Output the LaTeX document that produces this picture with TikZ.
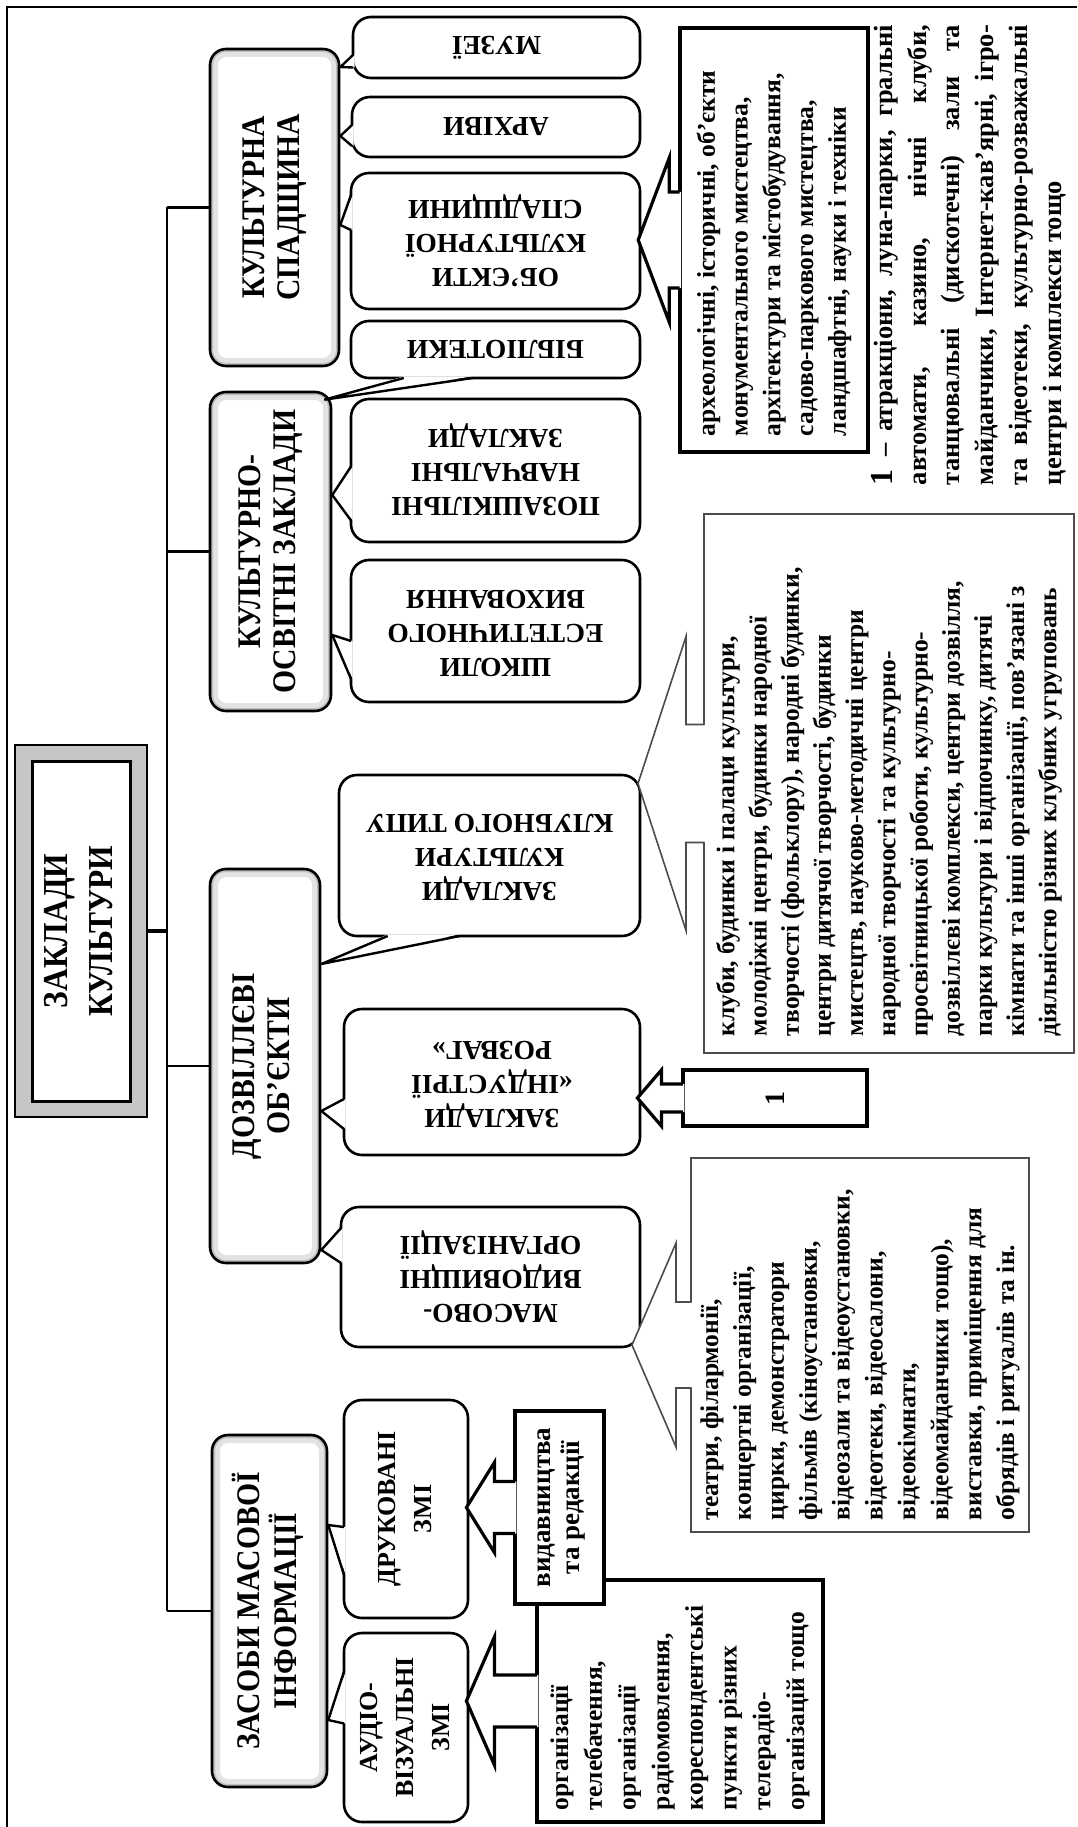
\documentclass[tikz,border=0pt]{standalone}
\usepackage{fontspec}
\setmainfont{Liberation Serif}
\newfontfamily\narrowserif{Liberation Serif}[FakeStretch=0.9]
\usepackage{graphicx}
\usetikzlibrary{calc,positioning}

\newcommand{\tailw}[4]{%
  \fill[white] ($(#1.west)+(3,#2)$) -- (#4) -- ($(#1.west)+(3,#3)$) -- cycle;
  \draw[tailline] ($(#1.west)+(1.3,#2)$) -- (#4) -- ($(#1.west)+(1.3,#3)$);}
\newcommand{\tails}[4]{%
  \fill[white] ($(#1.south west)+(#2,-3)$) -- (#4) -- ($(#1.south west)+(#3,-3)$) -- cycle;
  \draw[tailline] ($(#1.south west)+(#2,-1.3)$) -- (#4) -- ($(#1.south west)+(#3,-1.3)$);}
\newcommand{\headw}[6]{%
  \fill[white] ($(#1.west)+(3,#5)$) -- ($(#1.west)+(-#2,#5)$) -- ($(#1.west)+(-#2,#4)$)
    -- ($(#1.west)+(-#2-#3,0)$) -- ($(#1.west)+(-#2,-#4)$) -- ($(#1.west)+(-#2,-#5)$)
    -- ($(#1.west)+(3,-#5)$) -- cycle;
  \draw[#6] ($(#1.west)+(1.5,#5)$) -- ($(#1.west)+(-#2,#5)$) -- ($(#1.west)+(-#2,#4)$)
    -- ($(#1.west)+(-#2-#3,0)$) -- ($(#1.west)+(-#2,-#4)$) -- ($(#1.west)+(-#2,-#5)$)
    -- ($(#1.west)+(1.5,-#5)$);}

\begin{document}
\hyphenpenalty=10000 \exhyphenpenalty=10000
\begin{tikzpicture}[x=1pt,y=-1pt,
  conn/.style={line width=2.6},
  grp/.style={draw,line width=2.6,rounded corners=16,fill=white,inner sep=0,
    font=\narrowserif\fontsize{33}{35}\selectfont\bfseries,
    path picture={
      \draw[gray!22,line width=16,rounded corners=16] (path picture bounding box.south west) rectangle (path picture bounding box.north east);
      \draw[gray!50,line width=6,rounded corners=16] (path picture bounding box.south west) rectangle (path picture bounding box.north east);}},
  callout/.style={draw,line width=2.6,rounded corners=18,fill=white,inner sep=0,
    font=\fontsize{27.5}{34}\selectfont\bfseries},
  sidecall/.style={callout,font=\fontsize{26}{36}\selectfont\bfseries},
  boldbox/.style={draw,line width=3.2,fill=white,inner sep=0,
    font=\fontsize{25.5}{32.7}\selectfont\bfseries},
  thinbox/.style={draw=gray!60!black,line width=2,fill=white,inner sep=0,
    font=\fontsize{25.5}{32.2}\selectfont\bfseries},
  tailline/.style={line width=2.4},
  thinhead/.style={draw=gray!60!black,line width=1.6},
  boldhead/.style={line width=3.2}]
  \useasboundingbox (0,0) rectangle (1077,1827);
  \draw[line width=1.2] (1077,7) -- (7,7) -- (7,1827);

  % main box
  \node[draw,line width=2.5,fill=gray!45,minimum width=132,minimum height=372] (main) at (81,931) {};
  \node[draw,line width=3,fill=white,minimum width=98,minimum height=340,inner sep=0,
    font=\narrowserif\fontsize{35}{45}\selectfont\bfseries] (title) at (main)
    {\rotatebox{90}{\begin{tabular}{@{}c@{}}ЗАКЛАДИ\\КУЛЬТУРИ\end{tabular}}};

  % groups
  \node[grp,minimum width=129,minimum height=317] (g1) at (274.5,207.5)
    {\rotatebox{90}{\begin{tabular}{@{}c@{}}КУЛЬТУРНА\\СПАДЩИНА\end{tabular}}};
  \node[grp,minimum width=121,minimum height=319] (g2) at (270.5,551.5)
    {\rotatebox{90}{\begin{tabular}{@{}c@{}}КУЛЬТУРНО-\\ОСВІТНІ ЗАКЛАДИ\end{tabular}}};
  \node[grp,minimum width=110,minimum height=394] (g3) at (265,1066)
    {\rotatebox{90}{\begin{tabular}{@{}c@{}}ДОЗВІЛЛЄВІ\\ОБ’ЄКТИ\end{tabular}}};
  \node[grp,minimum width=115,minimum height=352] (g4) at (269.5,1611)
    {\rotatebox{90}{\begin{tabular}{@{}c@{}}ЗАСОБИ МАСОВОЇ\\ІНФОРМАЦІЇ\end{tabular}}};

  \coordinate (tr) at (167,931);
  \draw[conn] (tr |- g1.west) -- (tr |- g4.west);
  \foreach \g in {g1,g2,g3,g4} \draw[conn] (tr |- \g.west) -- (\g.west);
  \draw[line width=4] (main.east) -- (tr);

  % callouts
  \node[callout,minimum width=287,minimum height=61] (c1) at (496.5,47.5) {\rotatebox{180}{МУЗЕЇ}};
  \node[callout,minimum width=288,minimum height=60] (c2) at (496,127) {\rotatebox{180}{АРХІВИ}};
  \node[callout,minimum width=289,minimum height=136] (c3) at (495.5,241)
    {\rotatebox{180}{\begin{tabular}{@{}c@{}}ОБ’ЄКТИ\\КУЛЬТУРНОЇ\\СПАДЩИНИ\end{tabular}}};
  \node[callout,minimum width=289,minimum height=57] (c4) at (495.5,349.5) {\rotatebox{180}{БІБЛІОТЕКИ}};
  \node[callout,minimum width=289,minimum height=143] (c5) at (495.5,470.5)
    {\rotatebox{180}{\begin{tabular}{@{}c@{}}ПОЗАШКІЛЬНІ\\НАВЧАЛЬНІ\\ЗАКЛАДИ\end{tabular}}};
  \node[callout,minimum width=289,minimum height=142] (c6) at (495.5,631)
    {\rotatebox{180}{\begin{tabular}{@{}c@{}}ШКОЛИ\\ЕСТЕТИЧНОГО\\ВИХОВАННЯ\end{tabular}}};
  \node[callout,minimum width=301,minimum height=161] (c7) at (489.5,855.5)
    {\rotatebox{180}{\begin{tabular}{@{}c@{}}ЗАКЛАДИ\\КУЛЬТУРИ\\КЛУБНОГО ТИПУ\end{tabular}}};
  \node[callout,minimum width=296,minimum height=146] (c8) at (492,1082)
    {\rotatebox{180}{\begin{tabular}{@{}c@{}}ЗАКЛАДИ\\«ІНДУСТРІЇ\\РОЗВАГ»\end{tabular}}};
  \node[callout,minimum width=299,minimum height=140] (c9) at (490.5,1277)
    {\rotatebox{180}{\begin{tabular}{@{}c@{}}МАСОВО-\\ВИДОВИЩНІ\\ОРГАНІЗАЦІЇ\end{tabular}}};
  \node[sidecall,minimum width=124,minimum height=218] (c10) at (406,1509)
    {\rotatebox{90}{\begin{tabular}{@{}c@{}}ДРУКОВАНІ\\ЗМІ\end{tabular}}};
  \node[sidecall,minimum width=124,minimum height=189] (c11) at (406,1727.5)
    {\rotatebox{90}{\begin{tabular}{@{}c@{}}АУДІО-\\ВІЗУАЛЬНІ\\ЗМІ\end{tabular}}};

  \tailw{c1}{7.5}{20}{g1.east |- 0,67}
  \tailw{c2}{-2}{19}{g1.east |- 0,136}
  \tailw{c3}{-46}{-11}{g1.east |- 0,225}
  \tails{c4}{54}{123}{$(g2.north east)+(-8,9)$}
  \tailw{c5}{-4}{50}{g2.east |- 0,495}
  \tailw{c6}{10}{48}{g2.east |- 0,635}
  \tails{c7}{50}{122}{g3.east |- 0,964}
  \tailw{c8}{17}{47}{g3.east |- 0,1111}
  \tailw{c9}{-49}{-14}{g3.east |- 0,1250}
  \tailw{c10}{18}{66}{g4.east |- 0,1525}
  \tailw{c11}{-56}{-4}{g4.east |- 0,1720}

  % lists
  \node[boldbox,line width=3.6,minimum width=188,minimum height=424] (arch) at (774,240)
    {\rotatebox{90}{\parbox{392pt}{\raggedright археологічні, історичні, об’єкти\\
      монументального мистецтва,\\ архітектури та містобудування,\\
      садово-паркового мистецтва,\\ ландшафтні, науки і техніки}}};
  \headw{arch}{9}{31}{82}{48}{boldhead}

  \node[inner sep=0,font=\fontsize{26.5}{33.7}\selectfont\bfseries] (note) at (969,255)
    {\rotatebox{90}{\parbox{460pt}{{\fontsize{32}{33.7}\selectfont 1} – атракціони, луна-парки, гральні\linebreak
      автомати, казино, нічні клуби,\linebreak танцювальні (дискотечні) зали та\linebreak
      майданчики, Інтернет-кав’ярні, ігро-\linebreak та відеотеки, культурно-розважальні\linebreak
      центри і комплекси тощо}}};

  \node[thinbox,minimum width=370,minimum height=539] (klub) at (889,783.5)
    {\rotatebox{90}{\parbox{505pt}{\raggedright клуби, будинки і палаци культури,\\
      молодіжні центри, будинки народної\\ творчості (фольклору), народні будинки,\\
      центри дитячої творчості, будинки\\ мистецтв, науково-методичні центри\\
      народної творчості та культурно-\\ просвітницької роботи, культурно-\\
      дозвіллєві комплекси, центри дозвілля,\\ парки культури і відпочинку, дитячі\\
      кімнати та інші організації, пов’язані з\\ діяльністю різних клубних угруповань}}};
  \headw{klub}{17}{48}{147}{59}{thinhead}

  \node[boldbox,minimum width=184,minimum height=56,font=\fontsize{28}{30}\selectfont\bfseries] (one) at (775,1098)
    {\rotatebox{90}{1}};
  \headw{one}{20}{24}{28}{14}{boldhead}

  \node[thinbox,minimum width=338,minimum height=374,font=\fontsize{25.5}{32.9}\selectfont\bfseries] (teatr) at (860,1345)
    {\rotatebox{90}{\parbox{350pt}{\raggedright театри, філармонії,\\ концертні організації,\\
      цирки, демонстратори\\ фільмів (кіноустановки,\\ відеозали та відеоустановки,\\
      відеотеки, відеосалони,\\ відеокімнати,\\ відеомайданчики тощо),\\
      виставки, приміщення для\\ обрядів і ритуалів та ін.}}};
  \headw{teatr}{14}{44}{102}{43}{thinhead}

  \node[boldbox,minimum width=286,minimum height=242,font=\fontsize{25.5}{33.7}\selectfont\bfseries] (org) at (680,1701)
    {\rotatebox{90}{\parbox{218pt}{\raggedright організації\\ телебачення,\\ організації\\
      радіомовлення,\\ кореспондентські\\ пункти різних\\ телерадіо-\\ організацій тощо}}};
  \headw{org}{41}{28}{64}{26}{boldhead}

  \node[boldbox,minimum width=89,minimum height=193,font=\fontsize{27}{29}\selectfont\bfseries] (vyd) at (559.5,1507.5)
    {\rotatebox{90}{\begin{tabular}{@{}c@{}}видавництва\\та редакції\end{tabular}}};
  \headw{vyd}{19}{28}{45}{26}{boldhead}
\end{tikzpicture}
\end{document}
